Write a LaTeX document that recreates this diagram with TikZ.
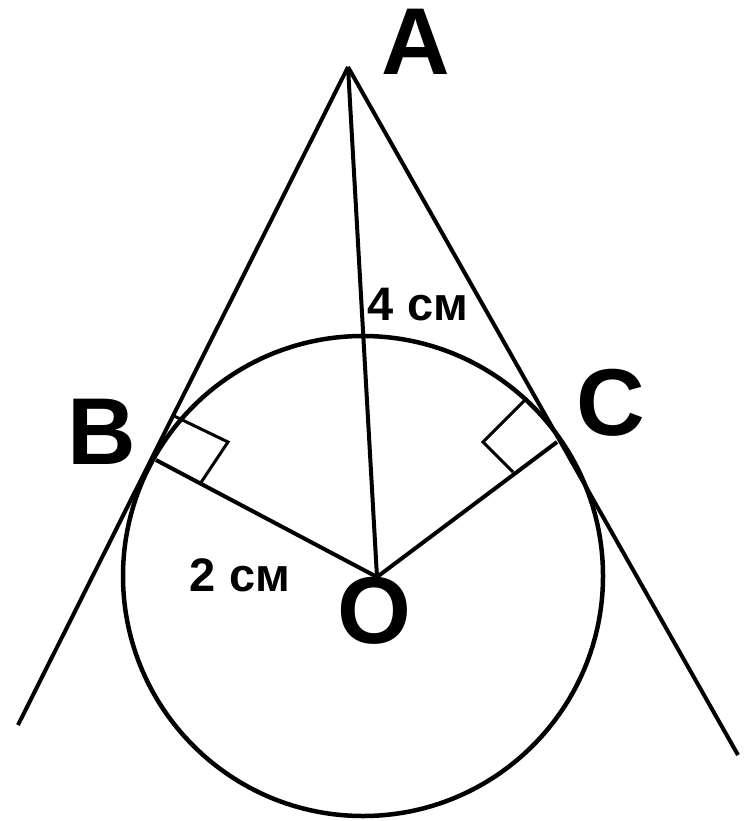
\documentclass[tikz,border=0pt]{standalone}
\usepackage{fontspec}
\setmainfont{Liberation Sans}
\begin{document}
\begin{tikzpicture}[x=1pt,y=-1pt,
  geo/.style={line width=4pt, black},
  rightang/.style={line width=3pt, black, line join=miter},
  bigl/.style={font=\bfseries\fontsize{95}{95}\selectfont, inner sep=0pt},
  meas/.style={font=\bfseries\fontsize{47}{47}\selectfont, inner sep=0pt}]
\useasboundingbox (0,0) rectangle (744,821);
% points
\coordinate (A) at (348,67);
\coordinate (O) at (377,577);
\coordinate (B) at (156,460);
\coordinate (C) at (557,442);
\coordinate (Oc) at (363,576);
\coordinate (Lend) at (18,725);
\coordinate (Rend) at (738,755);
\coordinate (B1) at (172,415);
\coordinate (B2) at (228,442);
\coordinate (B3) at (200,484);
\coordinate (C1) at (527,398);
\coordinate (C2) at (483,442);
\coordinate (C3) at (513,472);
% circle
\draw[line width=4.5pt] (Oc) circle[radius=240];
% tangents
\draw[geo] (A) -- (Lend);
\draw[geo] (A) -- (Rend);
% segments
\draw[geo] (A) -- (O);
\draw[geo] (B) -- (O);
\draw[geo] (C) -- (O);
% right angle marks
\draw[rightang] (B1) -- (B2) -- (B3);
\draw[rightang] (C1) -- (C2) -- (C3);
% labels
\node[bigl] (la) at (416,42) {A};
\node[bigl] (lb) at (102,432) {B};
\node[bigl] (lc) at (611,403) {C};
\node[bigl] (lo) at (374,611) {O};
\node[meas] (l4) at (418,305) {4 см};
\node[meas] (l2) at (240,575) {2 см};
\end{tikzpicture}
\end{document}
